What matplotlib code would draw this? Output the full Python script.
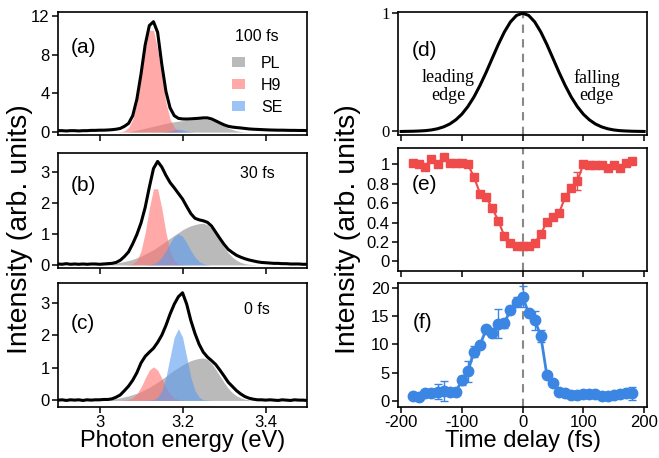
import numpy as np
import matplotlib
matplotlib.use('Agg')
import matplotlib.pyplot as plt
from matplotlib.patches import Patch

plt.rcParams['font.family'] = 'Liberation Sans'
plt.rcParams['axes.unicode_minus'] = False

# ---- spectra (left column), energy grid 2.90 .. 3.50 eV, step 0.01
energy = np.round(np.arange(2.90, 3.505, 0.01), 2)
spec_a = [0.15, 0.15, 0.12, 0.15, 0.15, 0.12, 0.15, 0.15, 0.18, 0.18,
          0.2, 0.2, 0.22, 0.25, 0.3, 0.38, 0.6, 0.9, 1.7, 3.4,
          6.0, 9.0, 11.0, 11.4, 10.3, 7.0, 4.2, 2.5, 1.7, 1.42,
          1.36, 1.35, 1.37, 1.4, 1.43, 1.47, 1.47, 1.36, 1.16, 0.95,
          0.75, 0.6, 0.52, 0.47, 0.43, 0.38, 0.33, 0.3, 0.28, 0.26,
          0.24, 0.22, 0.21, 0.2, 0.2, 0.19, 0.18, 0.18, 0.17, 0.17, 0.16]
spec_b = [0.03, 0.02, 0.04, 0.02, 0.03, 0.02, 0.03, 0.02, 0.03, 0.03,
          0.02, 0.03, 0.04, 0.05, 0.08, 0.15, 0.27, 0.42, 0.68, 0.98,
          1.35, 1.85, 2.5, 3.1, 3.33, 3.15, 2.88, 2.65, 2.48, 2.3,
          2.12, 1.88, 1.65, 1.5, 1.45, 1.42, 1.37, 1.25, 1.05, 0.85,
          0.66, 0.5, 0.4, 0.31, 0.25, 0.2, 0.16, 0.13, 0.1, 0.08,
          0.07, 0.06, 0.05, 0.05, 0.04, 0.04, 0.03, 0.03, 0.03, 0.02, 0.02]
spec_c = [0.01, 0.02, 0.0, 0.02, 0.01, 0.02, 0.0, 0.02, 0.01, 0.02,
          0.02, 0.03, 0.03, 0.05, 0.1, 0.17, 0.3, 0.44, 0.62, 0.85,
          1.15, 1.35, 1.48, 1.6, 1.78, 2.0, 2.3, 2.65, 2.95, 3.18,
          3.3, 2.95, 2.45, 2.05, 1.72, 1.48, 1.33, 1.22, 1.1, 0.93,
          0.75, 0.56, 0.43, 0.3, 0.2, 0.12, 0.07, 0.04, 0.02, 0.02,
          0.01, 0.02, 0.01, 0.0, 0.02, 0.01, 0.0, 0.02, 0.01, 0.01, 0.0]

# ---- fitted components, grid 3.00 .. 3.40 eV, step 0.01
e_fit = np.round(np.arange(3.00, 3.405, 0.01), 2)
pl_a = [0, 0, 0, 0, 0, 0, 0, 0.02, 0.1, 0.2, 0.3, 0.4, 0.5, 0.6, 0.7,
        0.8, 0.9, 1.0, 1.07, 1.13, 1.18, 1.22, 1.26, 1.3, 1.33, 1.34,
        1.32, 1.22, 1.05, 0.84, 0.62, 0.42, 0.26, 0.14, 0.06, 0.02,
        0, 0, 0, 0, 0]
h9_a = [0, 0, 0, 0, 0, 0.03, 0.14, 0.47, 1.33, 3.05, 5.66, 8.56, 10.52,
        10.52, 8.56, 5.66, 3.05, 1.33, 0.47, 0.14, 0.03] + [0] * 20
se_a = [0] * 16 + [0.04, 0.12, 0.24, 0.3, 0.24, 0.12, 0.04] + [0] * 18

pl_b = [0.02, 0.02, 0.03, 0.05, 0.06, 0.08, 0.11, 0.14, 0.18, 0.23,
        0.28, 0.35, 0.42, 0.49, 0.58, 0.67, 0.76, 0.86, 0.95, 1.04,
        1.13, 1.2, 1.26, 1.3, 1.33, 1.34, 1.29, 1.17, 0.98, 0.77,
        0.56, 0.39, 0.25, 0.15, 0.08, 0.04, 0.02, 0.01, 0, 0, 0]
h9_b = [0] * 7 + [0.01, 0.04, 0.15, 0.45, 1.04, 1.82, 2.45, 2.45, 1.82,
                  1.04, 0.45, 0.15, 0.04, 0.01] + [0] * 20
se_b = [0] * 12 + [0.01, 0.04, 0.11, 0.25, 0.46, 0.71, 0.92, 1.0, 0.92,
                   0.71, 0.46, 0.25, 0.11, 0.04, 0.01] + [0] * 14

pl_c = [0.02, 0.02, 0.03, 0.05, 0.06, 0.08, 0.11, 0.14, 0.18, 0.22,
        0.27, 0.34, 0.4, 0.48, 0.56, 0.65, 0.74, 0.84, 0.93, 1.01,
        1.09, 1.16, 1.22, 1.26, 1.29, 1.3, 1.26, 1.13, 0.95, 0.75,
        0.55, 0.37, 0.24, 0.14, 0.08, 0.04, 0.02, 0.01, 0, 0, 0]
h9_c = [0] * 6 + [0.01, 0.03, 0.08, 0.2, 0.41, 0.68, 0.93, 1.03, 0.93,
                  0.68, 0.41, 0.2, 0.08, 0.03, 0.01] + [0] * 20
se_c = [0] * 12 + [0.01, 0.02, 0.1, 0.3, 0.71, 1.33, 1.94, 2.2, 1.94,
                   1.33, 0.71, 0.3, 0.1, 0.02, 0.01] + [0] * 14

# ---- pulse envelope (d)
t_pulse = np.arange(-200, 201, 10)
half = [0.0, 0.001, 0.002, 0.004, 0.007, 0.013, 0.023, 0.039, 0.063, 0.098,
        0.146, 0.211, 0.292, 0.39, 0.5, 0.618, 0.735, 0.841, 0.926, 0.981]
pulse = half + [1.0] + half[::-1]

# ---- time-resolved data (e), (f)
delay = np.arange(-180, 181, 10)
h9_int = [1.01, 1.0, 0.97, 1.06, 1.0, 1.08, 1.01, 1.01, 1.02, 1.0,
          0.87, 0.7, 0.66, 0.55, 0.42, 0.26, 0.19, 0.16, 0.16, 0.16,
          0.19, 0.28, 0.41, 0.46, 0.5, 0.66, 0.76, 0.83, 1.0, 0.99,
          0.99, 0.99, 0.96, 0.99, 0.96, 1.02, 1.04]
h9_err = [0.015] * 9 + [0.03] + [0.015] * 16 + [0.02, 0.09] + [0.015] * 9
se_int = [0.8, 0.7, 1.3, 1.4, 1.6, 1.7, 1.6, 1.6, 3.6, 5.2,
          8.7, 9.9, 12.7, 12.0, 13.7, 13.8, 16.1, 17.6, 18.5, 15.5,
          14.3, 11.5, 4.5, 3.1, 1.5, 1.3, 1.1, 1.0, 1.2, 1.2,
          1.2, 0.9, 0.9, 1.0, 1.2, 1.3, 1.3]
se_err = [0.5, 0.5, 0.5, 0.6, 1.3, 1.8, 0.5, 0.5, 0.8, 1.8,
          1.0, 0.6, 0.5, 0.6, 2.6, 0.8, 0.7, 0.8, 1.8, 0.6,
          1.7, 1.0, 0.5, 0.5, 0.5, 0.4, 0.4, 0.4, 0.4, 0.5,
          0.4, 0.5, 0.4, 0.4, 0.6, 0.6, 1.1]

c_pl = '#8c8c8c'
c_h9 = '#ff7070'
c_se = '#5a9bf0'
c_red = '#ef4b4b'
c_blue = '#3b86e3'

fig = plt.figure(figsize=(6.59, 4.58), dpi=100)

W = 0.378
axa = fig.add_axes([0.088, 0.7052, W, 0.2686])
axb = fig.add_axes([0.088, 0.4148, W, 0.2511])
axc = fig.add_axes([0.088, 0.1114, W, 0.2707])
axd = fig.add_axes([0.604, 0.7052, W, 0.2686])
axe = fig.add_axes([0.604, 0.4083, W, 0.2686])
axf = fig.add_axes([0.604, 0.1114, W, 0.2707])


def style(ax):
    for s in ax.spines.values():
        s.set_linewidth(1.2)
    ax.tick_params(direction='out', length=4, width=1.1, labelsize=12, pad=2)


# left column spectra
panels = [(axa, spec_a, pl_a, h9_a, se_a, '(a)', '100 fs', 0.715, 0.80),
          (axb, spec_b, pl_b, h9_b, se_b, '(b)', '30 fs', 0.72, 0.826),
          (axc, spec_c, pl_c, h9_c, se_c, '(c)', '0 fs', 0.67, 0.79)]
for ax, spec, pl, h9, se, lab, dt, ly, dy in panels:
    ax.fill_between(e_fit, 0, pl, color=c_pl, alpha=0.6, lw=0)
    ax.fill_between(e_fit, 0, h9, color=c_h9, alpha=0.6, lw=0)
    ax.fill_between(e_fit, 0, se, color=c_se, alpha=0.6, lw=0)
    ax.plot(energy, spec, color='black', lw=2.2)
    ax.set_xlim(2.9, 3.5)
    ax.set_xticks([3.0, 3.2, 3.4])
    ax.text(0.05, ly, lab, transform=ax.transAxes, fontsize=15, va='center')
    ax.text(0.80, dy, dt, transform=ax.transAxes, fontsize=11.5,
            ha='center', va='center')
    style(ax)

axa.set_ylim(-0.3, 12.4)
axa.set_yticks([0, 4, 8, 12])
axb.set_ylim(-0.1, 3.6)
axb.set_yticks([0, 1, 2, 3])
axc.set_ylim(-0.2, 3.6)
axc.set_yticks([0, 1, 2, 3])
axa.tick_params(labelbottom=False)
axb.tick_params(labelbottom=False)
axc.set_xticklabels(['3', '3.2', '3.4'])
axc.set_xlabel('Photon energy (eV)', fontsize=17, labelpad=0)

handles = [Patch(color=c_pl, alpha=0.6, lw=0), Patch(color=c_h9, alpha=0.6, lw=0),
           Patch(color=c_se, alpha=0.6, lw=0)]
axa.legend(handles, ['PL', 'H9', 'SE'], loc='upper left', bbox_to_anchor=(0.70, 0.645),
           frameon=False, fontsize=11.5, handlelength=0.8, handleheight=0.6,
           handletextpad=1.0, labelspacing=0.45, borderpad=0, borderaxespad=0)

# right column
for ax in (axd, axe, axf):
    ax.axvline(0, color='#888888', lw=1.5, ls=(0, (4, 3)), zorder=1)
    ax.set_xlim(-205, 205)
    ax.set_xticks([-200, -100, 0, 100, 200])
    style(ax)

axd.plot(t_pulse, pulse, color='black', lw=2.2)
axd.set_ylim(-0.03, 1.01)
axd.set_yticks([0, 1])
for lbl in axd.get_yticklabels():
    lbl.set_family('Liberation Serif')
axd.text(0.055, 0.69, '(d)', transform=axd.transAxes, fontsize=15, va='center')
axd.text(-122, 0.38, 'leading\nedge', family='Liberation Serif', fontsize=13,
         ha='center', va='center', linespacing=1.05)
axd.text(122, 0.38, 'falling\nedge', family='Liberation Serif', fontsize=13,
         ha='center', va='center', linespacing=1.05)

axe.errorbar(delay, h9_int, yerr=h9_err, color=c_red, marker='s', ms=6, lw=1.5,
             elinewidth=1, capsize=3, zorder=3)
axe.set_ylim(-0.1, 1.17)
axe.set_yticks([0, 0.2, 0.4, 0.6, 0.8, 1])
axe.set_yticklabels(['0', '0.2', '0.4', '0.6', '0.8', '1'])
axe.text(0.055, 0.70, '(e)', transform=axe.transAxes, fontsize=15, va='center')

axf.errorbar(delay, se_int, yerr=se_err, color=c_blue, marker='o', ms=7.5, lw=2,
             elinewidth=1, capsize=3, zorder=3)
axf.set_ylim(-1.1, 20.9)
axf.set_yticks([0, 5, 10, 15, 20])
axf.text(0.06, 0.68, '(f)', transform=axf.transAxes, fontsize=15, va='center')
axf.set_xlabel('Time delay (fs)', fontsize=17, labelpad=0)

axd.tick_params(labelbottom=False)
axe.tick_params(labelbottom=False)

fig.text(0.030, 0.50, 'Intensity (arb. units)', rotation=90, fontsize=20.5,
         ha='center', va='center')
fig.text(0.528, 0.50, 'Intensity (arb. units)', rotation=90, fontsize=20.5,
         ha='center', va='center')

fig.savefig('out.png', dpi=100)
